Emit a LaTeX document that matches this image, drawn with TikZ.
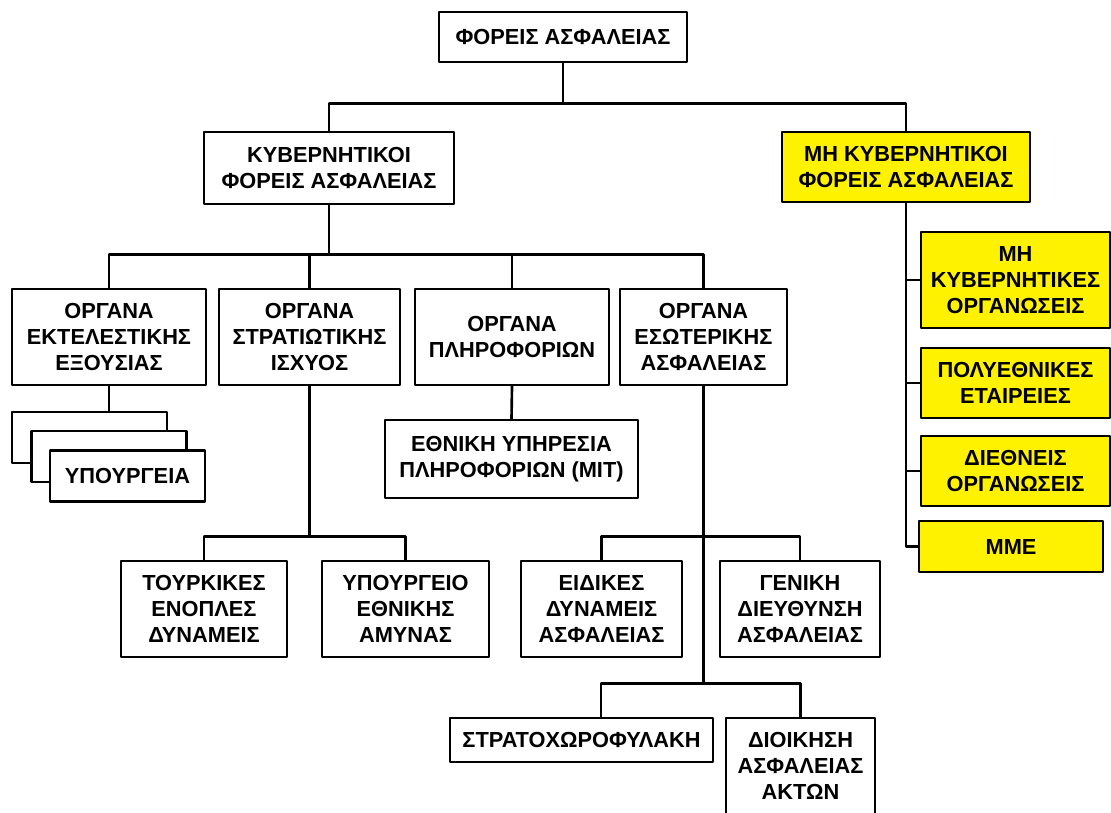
\documentclass[tikz,border=0pt]{standalone}
\usepackage{fontspec}
\setmainfont{Liberation Sans}
\begin{document}
\begin{tikzpicture}[x=0.02cm,y=-0.02cm,line width=1.5pt,line join=round,line cap=rect,
  font=\fontsize{12.4}{14.7}\selectfont\bfseries,
  box/.style={draw,fill=white,align=center,inner sep=1pt},
  ybox/.style={box,fill=yellow},
  sz/.style 2 args={minimum width=#1*0.02cm,minimum height=#2*0.02cm}]
  \useasboundingbox (0,0) rectangle (1111,812);
  % top levels
  \node[box,sz={248}{50}] (FA) at (563,37) {ΦΟΡΕΙΣ ΑΣΦΑΛΕΙΑΣ};
  \node[box,sz={250}{72}] (KF) at (329,168) {ΚΥΒΕΡΝΗΤΙΚΟΙ\\ΦΟΡΕΙΣ ΑΣΦΑΛΕΙΑΣ};
  \node[ybox,sz={248}{70}] (MK) at (906,167) {ΜΗ ΚΥΒΕΡΝΗΤΙΚΟΙ\\ΦΟΡΕΙΣ ΑΣΦΑΛΕΙΑΣ};
  % organs
  \node[box,sz={194}{96}] (O1) at (109,337) {ΟΡΓΑΝΑ\\ΕΚΤΕΛΕΣΤΙΚΗΣ\\ΕΞΟΥΣΙΑΣ};
  \node[box,sz={181}{96}] (O2) at (309.5,337) {ΟΡΓΑΝΑ\\ΣΤΡΑΤΙΩΤΙΚΗΣ\\ΙΣΧΥΟΣ};
  \node[box,sz={194}{96}] (O3) at (512,337) {ΟΡΓΑΝΑ\\ΠΛΗΡΟΦΟΡΙΩΝ};
  \node[box,sz={167}{96}] (O4) at (703.5,337) {ΟΡΓΑΝΑ\\ΕΣΩΤΕΡΙΚΗΣ\\ΑΣΦΑΛΕΙΑΣ};
  % ministries stack
  \node[box,sz={155}{51}] (YA) at (89.5,437.5) {};
  \node[box,sz={155}{51}] (YB) at (109,456.5) {};
  \node[box,sz={155}{51}] (YC) at (127.5,476) {ΥΠΟΥΡΓΕΙΑ};
  \node[box,sz={253}{78}] (MIT) at (511.5,459) {ΕΘΝΙΚΗ ΥΠΗΡΕΣΙΑ\\ΠΛΗΡΟΦΟΡΙΩΝ (ΜΙΤ)};
  % lower levels
  \node[box,sz={166}{96}] (TE) at (204,609) {ΤΟΥΡΚΙΚΕΣ\\ΕΝΟΠΛΕΣ\\ΔΥΝΑΜΕΙΣ};
  \node[box,sz={167}{96}] (YE) at (405.5,609) {ΥΠΟΥΡΓΕΙΟ\\ΕΘΝΙΚΗΣ\\ΑΜΥΝΑΣ};
  \node[box,sz={161}{96}] (ED) at (601.5,609) {ΕΙΔΙΚΕΣ\\ΔΥΝΑΜΕΙΣ\\ΑΣΦΑΛΕΙΑΣ};
  \node[box,sz={160}{96}] (GD) at (800,609) {ΓΕΝΙΚΗ\\ΔΙΕΥΘΥΝΣΗ\\ΑΣΦΑΛΕΙΑΣ};
  \node[box,sz={263}{44}] (SX) at (581.5,740) {ΣΤΡΑΤΟΧΩΡΟΦΥΛΑΚΗ};
  \node[box,sz={149}{96}] (DA) at (800.5,766) {ΔΙΟΙΚΗΣΗ\\ΑΣΦΑΛΕΙΑΣ\\ΑΚΤΩΝ};
  % non governmental
  \node[ybox,sz={189}{96}] (MO) at (1015.5,280) {ΜΗ\\ΚΥΒΕΡΝΗΤΙΚΕΣ\\ΟΡΓΑΝΩΣΕΙΣ};
  \node[ybox,sz={189}{70}] (PE) at (1015.5,383) {ΠΟΛΥΕΘΝΙΚΕΣ\\ΕΤΑΙΡΕΙΕΣ};
  \node[ybox,sz={189}{70}] (DO) at (1015.5,471) {ΔΙΕΘΝΕΙΣ\\ΟΡΓΑΝΩΣΕΙΣ};
  \node[ybox,sz={184}{51}] (MME) at (1011,546.5) {ΜΜΕ};
  % connectors
  \draw (FA.south) -- ++(0,40) coordinate (b1);
  \draw (KF.north) |- (b1) -| (MK.north);
  \draw (KF.south) -- ++(0,49) coordinate (b2);
  \draw (O1.north) |- (b2) -| (O4.north);
  \draw (O2.north) |- (b2) (O3.north) |- (b2);
  \draw (O1.south) -- (O1.south |- YA.north);
  \draw (O3.south) -- (MIT.north);
  \draw (O2.south) -- ++(0,150) coordinate (b3);
  \draw (TE.north) |- (b3) -| (YE.north);
  \draw (O4.south) -- ++(0,150) coordinate (b4);
  \draw (ED.north) |- (b4) -| (GD.north);
  \draw (b4) -- ++(0,147) coordinate (b5);
  \draw ([xshift=11pt]SX.north) |- (b5) -| (DA.north);
  \draw (MK.south) |- (MO.west) (MK.south) |- (PE.west)
        (MK.south) |- (DO.west) (MK.south) |- (MME.west);
\end{tikzpicture}
\end{document}
